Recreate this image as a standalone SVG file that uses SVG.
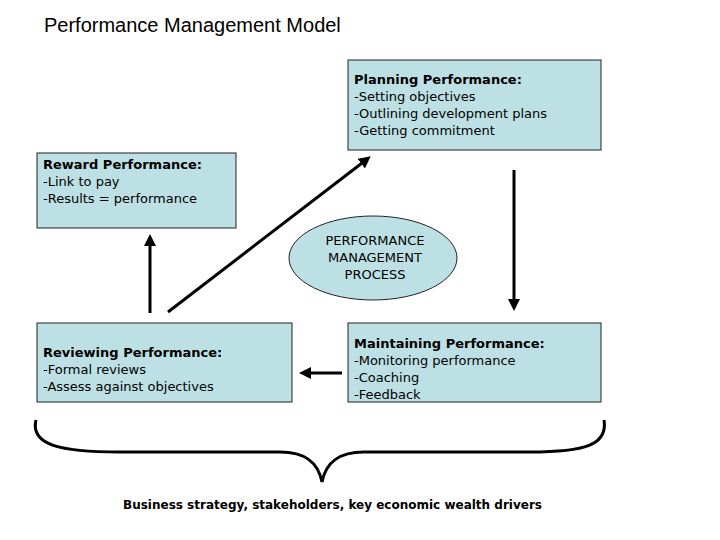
<svg xmlns="http://www.w3.org/2000/svg" width="720" height="540" viewBox="0 0 720 540">
<style>
.box{fill:#bde0e4;stroke:#222;stroke-width:1}
.t{font-family:"DejaVu Sans",sans-serif;font-size:13px;fill:#000}
.b{font-weight:bold}
.ln{stroke:#000;stroke-width:3;fill:none}
</style>
<defs><marker id="ah" markerWidth="4" markerHeight="4" refX="2" refY="2" orient="auto" markerUnits="strokeWidth"><path d="M0,0 L4,2 L0,4 z" fill="#000"/></marker></defs>
<rect width="720" height="540" fill="#fff"/>
<text x="44" y="32" style="font-family:'Liberation Sans',Arial,sans-serif;font-size:20px">Performance Management Model</text>
<g id="planning"><rect class="box" x="348" y="60" width="253" height="90"/>
<text class="t" x="354" y="84"><tspan class="b">Planning Performance:</tspan><tspan x="354" dy="17">-Setting objectives</tspan><tspan x="354" dy="17">-Outlining development plans</tspan><tspan x="354" dy="17">-Getting commitment</tspan></text></g>
<g id="reward"><rect class="box" x="37" y="153" width="199" height="75"/>
<text class="t" x="43" y="169"><tspan class="b">Reward Performance:</tspan><tspan x="43" dy="17">-Link to pay</tspan><tspan x="43" dy="17">-Results = performance</tspan></text></g>
<g id="process"><ellipse cx="373" cy="258" rx="84" ry="42" fill="#bde0e4" stroke="#222"/>
<text class="t" text-anchor="middle" x="375" y="245"><tspan>PERFORMANCE</tspan><tspan x="375" dy="17">MANAGEMENT</tspan><tspan x="375" dy="17">PROCESS</tspan></text></g>
<g id="reviewing"><rect class="box" x="37" y="323" width="255" height="79"/>
<text class="t" x="43" y="357"><tspan class="b">Reviewing Performance:</tspan><tspan x="43" dy="17">-Formal reviews</tspan><tspan x="43" dy="17">-Assess against objectives</tspan></text></g>
<g id="maintaining"><rect class="box" x="348" y="323" width="253" height="79"/>
<text class="t" x="354" y="348"><tspan class="b">Maintaining Performance:</tspan><tspan x="354" dy="17">-Monitoring performance</tspan><tspan x="354" dy="17">-Coaching</tspan><tspan x="354" dy="17">-Feedback</tspan></text></g>
<g id="connectors">
<line class="ln" x1="168" y1="312" x2="366" y2="160" marker-end="url(#ah)"/>
<line class="ln" x1="150" y1="313" x2="150" y2="240" marker-end="url(#ah)"/>
<line class="ln" x1="514" y1="170" x2="514" y2="305" marker-end="url(#ah)"/>
<line class="ln" x1="342" y1="373" x2="305" y2="373" marker-end="url(#ah)"/>
<path class="ln" d="M36,420 C30,445 60,452 120,452 L280,452 C305,452 318,462 322,482 C326,462 339,452 364,452 L530,452 C585,452 608,445 604,420"/>
</g>
<text class="t b" x="123" y="509" textLength="419" lengthAdjust="spacingAndGlyphs">Business strategy, stakeholders, key economic wealth drivers</text>
</svg>
